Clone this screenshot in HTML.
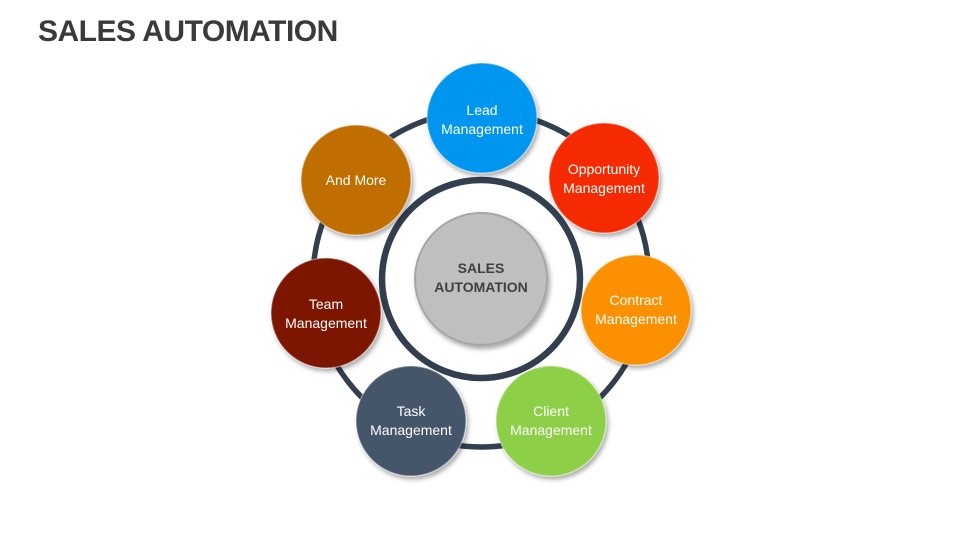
<!DOCTYPE html>
<html><head><style>
body{margin:0;width:960px;height:540px;background:#fff;overflow:hidden;font-family:"Liberation Sans",sans-serif}
h1{position:absolute;left:38px;top:15px;margin:0;font-size:30px;font-weight:bold;color:#3a3a3a;letter-spacing:-0.5px}
svg{position:absolute;left:0;top:0}
</style></head><body>
<h1>SALES AUTOMATION</h1>
<svg width="960" height="540" viewBox="0 0 960 540">
<defs>
<filter id="sh" x="-20%" y="-20%" width="150%" height="150%"><feDropShadow dx="2" dy="3" stdDeviation="2.5" flood-opacity="0.35"/></filter>
</defs>
<circle cx="481" cy="279" r="168" fill="none" stroke="#333f4f" stroke-width="5.5"/>
<circle cx="481" cy="279" r="99" fill="none" stroke="#333f4f" stroke-width="6.5"/>
<circle cx="481" cy="279" r="66" fill="#bfbfbf" stroke="#a6a6a6" stroke-width="2" filter="url(#sh)"/>
<g font-family="Liberation Sans, sans-serif" font-size="14" fill="#404040" font-weight="bold" text-anchor="middle">
<text x="481" y="273">SALES</text><text x="481" y="292">AUTOMATION</text></g>
<g filter="url(#sh)" stroke="rgba(255,255,255,0.35)" stroke-width="1.5">
<circle cx="482" cy="118" r="55" fill="#0096f0"/>
<circle cx="604" cy="178" r="55" fill="#f52a00"/>
<circle cx="636" cy="310" r="55" fill="#fb9000"/>
<circle cx="551" cy="421" r="55" fill="#8dcf47"/>
<circle cx="411" cy="421" r="55" fill="#44546a"/>
<circle cx="326" cy="313" r="55" fill="#7b1500"/>
<circle cx="356" cy="180" r="55" fill="#c06e00"/>
</g>
<g font-family="Liberation Sans, sans-serif" font-size="14" fill="#fff" text-anchor="middle">
<text x="482" y="115">Lead</text><text x="482" y="134">Management</text>
<text x="604" y="174">Opportunity</text><text x="604" y="193">Management</text>
<text x="636" y="305">Contract</text><text x="636" y="324">Management</text>
<text x="551" y="416">Client</text><text x="551" y="435">Management</text>
<text x="411" y="416">Task</text><text x="411" y="435">Management</text>
<text x="326" y="309">Team</text><text x="326" y="328">Management</text>
<text x="356" y="185">And More</text>
</g>
</svg>
</body></html>
